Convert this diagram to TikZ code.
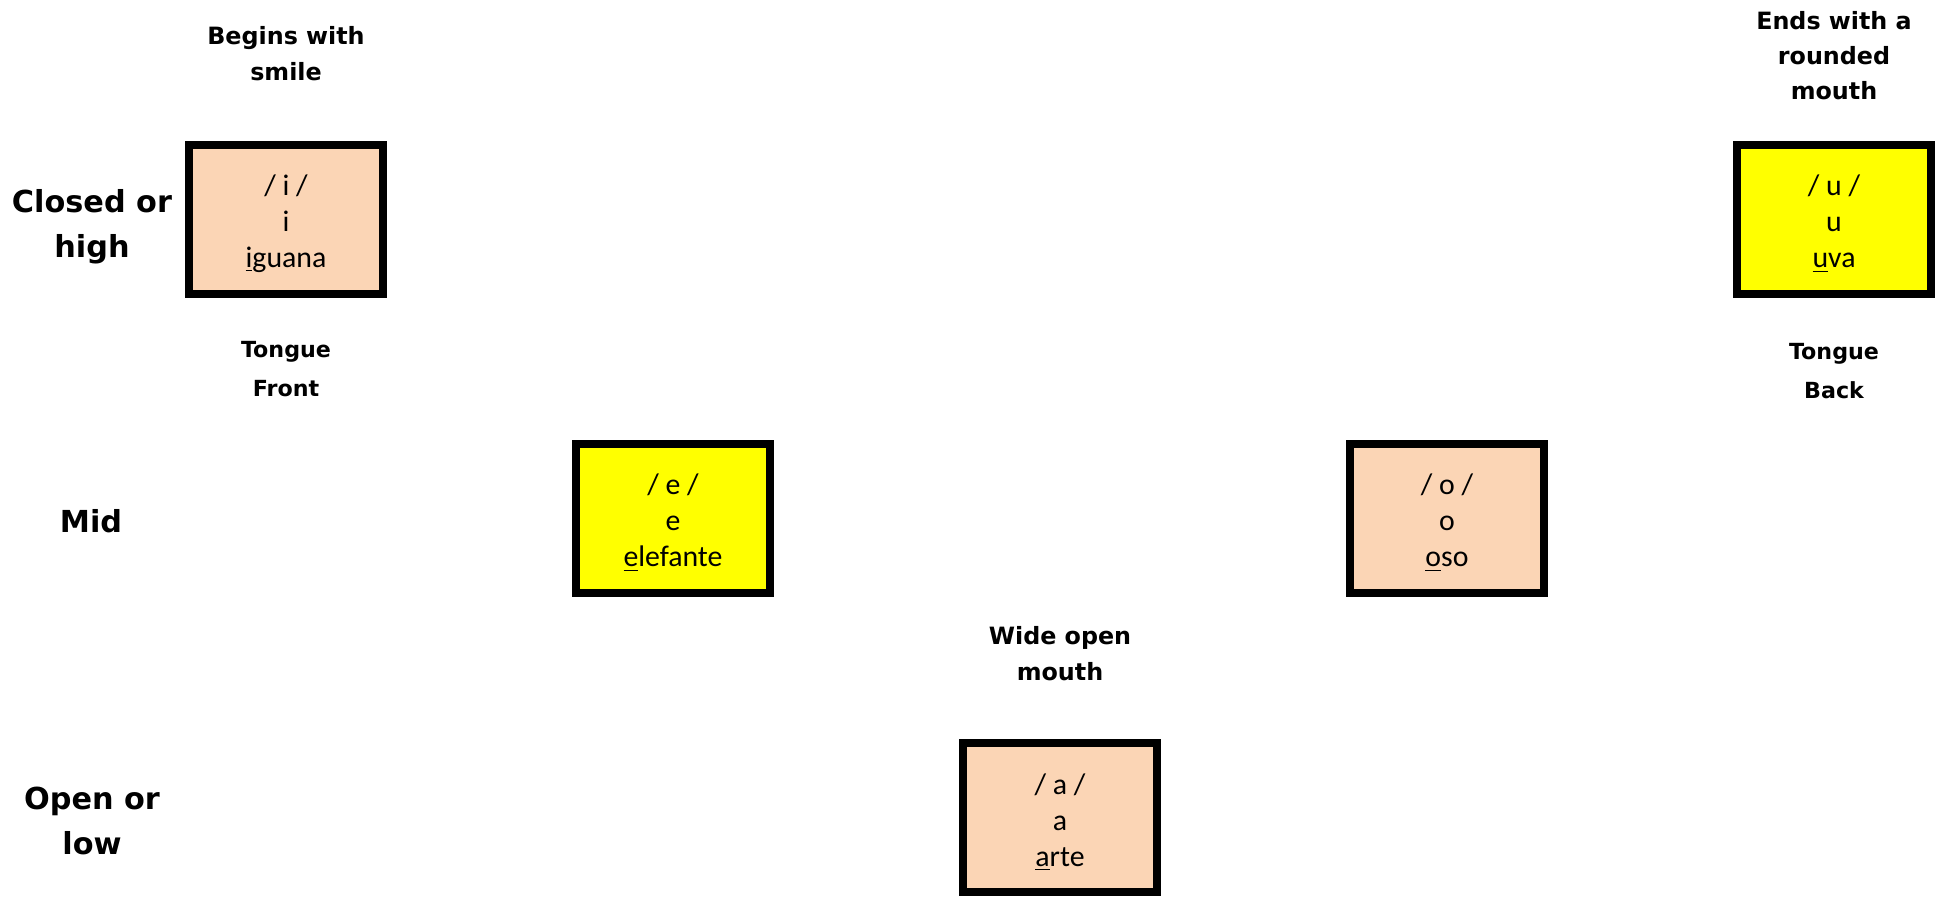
\documentclass[tikz,border=0pt]{standalone}
\usepackage{fontspec}
\setmainfont{Carlito}
\newfontfamily\lblfont{DejaVu Sans}
\definecolor{peach}{HTML}{FBD5B5}
\definecolor{vyellow}{HTML}{FFFF00}
\tikzset{
  vbox/.style={draw=black, line width=4pt, minimum width=97pt, minimum height=74.5pt, inner sep=0pt},
  vtext/.style={align=center, inner sep=0pt, font=\fontsize{14.9pt}{18pt}\selectfont},
  toplbl/.style={align=center, inner sep=0pt, font=\lblfont\bfseries\fontsize{11.9pt}{17.6pt}\selectfont},
  tonguelbl/.style={align=center, inner sep=0pt, font=\lblfont\bfseries\fontsize{11.1pt}{19.5pt}\selectfont},
  rowlbl/.style={align=center, inner sep=0pt, font=\lblfont\bfseries\fontsize{15.15pt}{22.5pt}\selectfont},
}
\newcommand{\ul}[1]{\underline{\smash{#1}}}
\begin{document}
\begin{tikzpicture}[x=0.5pt,y=-0.5pt]
\useasboundingbox (0,0) rectangle (1944,898);
% boxes
\node[vbox, fill=peach]   (bi) at (286,219.5) {};
\node[vbox, fill=vyellow] (bu) at (1834,219.5) {};
\node[vbox, fill=vyellow] (be) at (673,518.5) {};
\node[vbox, fill=peach]   (bo) at (1447,518.5) {};
\node[vbox, fill=peach]   (ba) at (1060,817.5) {};
% box texts
\node[vtext] (ti) at ([yshift=-2.65pt]bi.center) {\strut/ i /\\\strut i\\\strut\underline{i}guana};
\node[vtext] (tu) at ([yshift=-2.65pt]bu.center) {\strut/ u /\\\strut u\\\strut\underline{u}va};
\node[vtext] (te) at ([yshift=-2.65pt]be.center) {\strut/ e /\\\strut e\\\strut\underline{e}lefante};
\node[vtext] (to) at ([yshift=-2.65pt]bo.center) {\strut/ o /\\\strut o\\\strut\underline{o}so};
\node[vtext] (ta) at ([yshift=-2.65pt]ba.center) {\strut/ a /\\\strut a\\\strut\underline{a}rte};
% top labels
\node[toplbl] (smile) at (286,55.5) {\strut Begins with\\\strut smile};
\node[toplbl] (round) at (1834,57.4) {\strut Ends with a\\\strut rounded\\\strut mouth};
\node[toplbl] (wide) at (1060,655.5) {\strut Wide open\\\strut mouth};
% tongue labels
\node[tonguelbl] (front) at (286,369.7) {\strut Tongue\\\strut Front};
\node[tonguelbl] (back) at (1834,371.4) {\strut Tongue\\\strut Back};
% row labels
\node[rowlbl] (high) at (92,225.8) {\strut Closed or\\\strut high};
\node[rowlbl] (mid) at (91,523.8) {\strut Mid};
\node[rowlbl] (low) at (92,823) {\strut Open or\\\strut low};
\end{tikzpicture}
\end{document}
